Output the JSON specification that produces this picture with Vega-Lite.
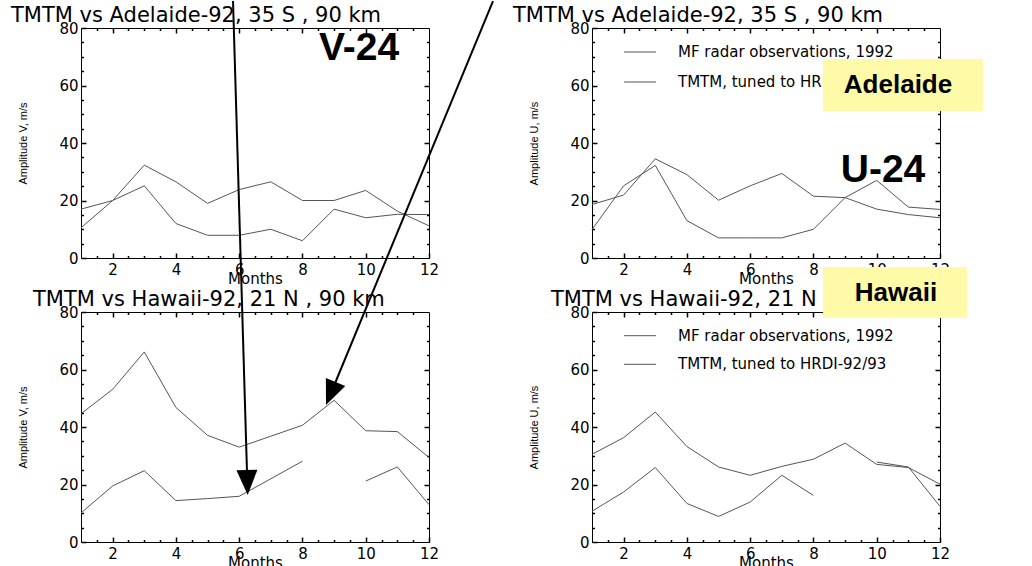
{
  "$schema": "https://vega.github.io/schema/vega-lite/v6.json",
  "padding": {"left": 10, "top": 0, "right": 5, "bottom": 5},
  "background": "white",
  "config": {
    "view": {"stroke": null},
    "axis": {"domainColor": "black", "domainWidth": 1, "tickColor": "black", "tickWidth": 1.5, "ticks": true, "labelColor": "black", "labelFont": "DejaVu Sans", "labelFontSize": 15, "labelFlush": false, "labelOverlap": false, "labelBound": false, "grid": false, "titleColor": "black", "titleFont": "DejaVu Sans", "titleFontWeight": "normal"}
  },
  "datasets": {
    "amp": [
      {"panel":"TL","series":"TMTM","month":1,"value":10.5},{"panel":"TL","series":"TMTM","month":2,"value":20},{"panel":"TL","series":"TMTM","month":3,"value":32.3},{"panel":"TL","series":"TMTM","month":4,"value":26.5},{"panel":"TL","series":"TMTM","month":5,"value":19},{"panel":"TL","series":"TMTM","month":6,"value":23.8},{"panel":"TL","series":"TMTM","month":7,"value":26.5},{"panel":"TL","series":"TMTM","month":8,"value":20},{"panel":"TL","series":"TMTM","month":9,"value":20},{"panel":"TL","series":"TMTM","month":10,"value":23.5},{"panel":"TL","series":"TMTM","month":11,"value":16.3},{"panel":"TL","series":"TMTM","month":12,"value":11.2},
      {"panel":"TL","series":"MF","month":1,"value":17},{"panel":"TL","series":"MF","month":2,"value":20},{"panel":"TL","series":"MF","month":3,"value":25.1},{"panel":"TL","series":"MF","month":4,"value":12},{"panel":"TL","series":"MF","month":5,"value":7.9},{"panel":"TL","series":"MF","month":6,"value":7.9},{"panel":"TL","series":"MF","month":7,"value":10},{"panel":"TL","series":"MF","month":8,"value":6},{"panel":"TL","series":"MF","month":9,"value":17},{"panel":"TL","series":"MF","month":10,"value":14},{"panel":"TL","series":"MF","month":11,"value":15.2},{"panel":"TL","series":"MF","month":12,"value":15.1},
      {"panel":"TR","series":"TMTM","month":1,"value":18.6},{"panel":"TR","series":"TMTM","month":2,"value":21.9},{"panel":"TR","series":"TMTM","month":3,"value":34.5},{"panel":"TR","series":"TMTM","month":4,"value":29},{"panel":"TR","series":"TMTM","month":5,"value":20.1},{"panel":"TR","series":"TMTM","month":6,"value":25.1},{"panel":"TR","series":"TMTM","month":7,"value":29.4},{"panel":"TR","series":"TMTM","month":8,"value":21.5},{"panel":"TR","series":"TMTM","month":9,"value":21},{"panel":"TR","series":"TMTM","month":10,"value":17},{"panel":"TR","series":"TMTM","month":11,"value":15.1},{"panel":"TR","series":"TMTM","month":12,"value":14},
      {"panel":"TR","series":"MF","month":1,"value":9.9},{"panel":"TR","series":"MF","month":2,"value":25.1},{"panel":"TR","series":"MF","month":3,"value":32.2},{"panel":"TR","series":"MF","month":4,"value":13},{"panel":"TR","series":"MF","month":5,"value":7},{"panel":"TR","series":"MF","month":6,"value":7},{"panel":"TR","series":"MF","month":7,"value":7},{"panel":"TR","series":"MF","month":8,"value":10},{"panel":"TR","series":"MF","month":9,"value":21},{"panel":"TR","series":"MF","month":10,"value":27},{"panel":"TR","series":"MF","month":11,"value":17.7},{"panel":"TR","series":"MF","month":12,"value":16.9},
      {"panel":"BL","series":"TMTM","month":1,"value":44.6},{"panel":"BL","series":"TMTM","month":2,"value":53.1},{"panel":"BL","series":"TMTM","month":3,"value":66.1},{"panel":"BL","series":"TMTM","month":4,"value":46.8},{"panel":"BL","series":"TMTM","month":5,"value":37.1},{"panel":"BL","series":"TMTM","month":6,"value":33},{"panel":"BL","series":"TMTM","month":7,"value":36.8},{"panel":"BL","series":"TMTM","month":8,"value":40.6},{"panel":"BL","series":"TMTM","month":9,"value":49.3},{"panel":"BL","series":"TMTM","month":10,"value":38.7},{"panel":"BL","series":"TMTM","month":11,"value":38.4},{"panel":"BL","series":"TMTM","month":12,"value":29.4},
      {"panel":"BL","series":"MF","month":1,"value":10.1},{"panel":"BL","series":"MF","month":2,"value":19.5},{"panel":"BL","series":"MF","month":3,"value":24.8},{"panel":"BL","series":"MF","month":4,"value":14.4},{"panel":"BL","series":"MF","month":5,"value":15.1},{"panel":"BL","series":"MF","month":6,"value":15.9},{"panel":"BL","series":"MF","month":7,"value":22},{"panel":"BL","series":"MF","month":8,"value":28.1},{"panel":"BL","series":"MF","month":9,"value":null},{"panel":"BL","series":"MF","month":10,"value":21.2},{"panel":"BL","series":"MF","month":11,"value":26.1},{"panel":"BL","series":"MF","month":12,"value":13},
      {"panel":"BR","series":"TMTM","month":1,"value":30.5},{"panel":"BR","series":"TMTM","month":2,"value":36.3},{"panel":"BR","series":"TMTM","month":3,"value":45.2},{"panel":"BR","series":"TMTM","month":4,"value":33.2},{"panel":"BR","series":"TMTM","month":5,"value":26.1},{"panel":"BR","series":"TMTM","month":6,"value":23.2},{"panel":"BR","series":"TMTM","month":7,"value":26.3},{"panel":"BR","series":"TMTM","month":8,"value":28.8},{"panel":"BR","series":"TMTM","month":9,"value":34.4},{"panel":"BR","series":"TMTM","month":10,"value":27},{"panel":"BR","series":"TMTM","month":11,"value":25.9},{"panel":"BR","series":"TMTM","month":12,"value":20.1},
      {"panel":"BR","series":"MF","month":1,"value":10.7},{"panel":"BR","series":"MF","month":2,"value":17.4},{"panel":"BR","series":"MF","month":3,"value":25.9},{"panel":"BR","series":"MF","month":4,"value":13.4},{"panel":"BR","series":"MF","month":5,"value":8.9},{"panel":"BR","series":"MF","month":6,"value":13.9},{"panel":"BR","series":"MF","month":7,"value":23.2},{"panel":"BR","series":"MF","month":8,"value":16.2},{"panel":"BR","series":"MF","month":9,"value":null},{"panel":"BR","series":"MF","month":10,"value":27.8},{"panel":"BR","series":"MF","month":11,"value":26.1},{"panel":"BR","series":"MF","month":12,"value":12.4}
    ]
  },
  "columns": 2,
  "spacing": {"row": 54, "column": 163},
  "bounds": "flush",
  "concat": [
    {
      "width": 348, "height": 230,
      "resolve": {"axis": {"x": "independent", "y": "independent"}},
      "layer": [
        {"data": {"name": "amp"}, "transform": [{"filter": "datum.panel === 'TL'"}],
         "mark": {"type": "line", "color": "#555", "strokeWidth": 1, "invalid": "break-paths-show-domains"},
         "encoding": {
           "x": {"field": "month", "type": "quantitative", "scale": {"domain": [1, 12], "nice": false, "zero": false},
                 "axis": {"orient": "bottom", "values": [2,4,6,8,10,12], "format": "d", "tickSize": -5, "labelPadding": 9, "title": "Months", "titleFontSize": 15, "titleY": 25, "titleBaseline": "alphabetic"}},
           "y": {"field": "value", "type": "quantitative", "scale": {"domain": [0, 80], "nice": false, "zero": false},
                 "axis": {"orient": "left", "values": [0,20,40,60,80], "format": "d", "tickSize": -5, "labelPadding": 8, "title": "Amplitude V, m/s", "titleFont": "Liberation Sans", "titleFontSize": 11, "titleX": -55, "titleY": 115, "titleAngle": 270, "titleAlign": "center", "titleBaseline": "alphabetic"}},
           "detail": {"field": "series"}
         }},
        {"data": {"values": [{}]},
         "mark": {"type": "text", "align": "left", "baseline": "alphabetic", "font": "DejaVu Sans", "fontSize": 21, "color": "black"},
         "encoding": {
           "x": {"datum": -1.213, "type": "quantitative", "scale": {"domain": [1, 12], "nice": false, "zero": false},
                 "axis": {"orient": "top", "values": [2,4,6,8,10], "labels": false, "tickSize": -5, "title": null}},
           "y": {"datum": 82.09, "type": "quantitative", "scale": {"domain": [0, 80], "nice": false, "zero": false},
                 "axis": {"orient": "right", "values": [20,40,60], "labels": false, "tickSize": -5, "title": null}},
           "text": {"value": "TMTM vs Adelaide-92, 35 S , 90 km"}
         }},
        {"data": {"values": [{}]}, "mark": {"type": "text", "opacity": 0},
         "encoding": {
           "x": {"datum": 1, "type": "quantitative", "scale": {"domain": [1, 12], "nice": false, "zero": false},
                 "axis": {"orient": "bottom", "values": [1.5,2.5,3,3.5,4.5,5,5.5,6.5,7,7.5,8.5,9,9.5,10.5,11,11.5], "tickSize": -2.5, "labels": false, "domain": false, "title": null}},
           "y": {"datum": 0, "type": "quantitative", "scale": {"domain": [0, 80], "nice": false, "zero": false},
                 "axis": {"orient": "left", "values": [5,10,15,25,30,35,45,50,55,65,70,75], "tickSize": -2.5, "labels": false, "domain": false, "title": null}},
           "text": {"value": ""}}},
        {"data": {"values": [{}]}, "mark": {"type": "text", "opacity": 0},
         "encoding": {
           "x": {"datum": 1, "type": "quantitative", "scale": {"domain": [1, 12], "nice": false, "zero": false},
                 "axis": {"orient": "top", "values": [1.5,2.5,3,3.5,4.5,5,5.5,6.5,7,7.5,8.5,9,9.5,10.5,11,11.5], "tickSize": -2.5, "labels": false, "domain": false, "title": null}},
           "y": {"datum": 0, "type": "quantitative", "scale": {"domain": [0, 80], "nice": false, "zero": false},
                 "axis": {"orient": "right", "values": [5,10,15,25,30,35,45,50,55,65,70,75], "tickSize": -2.5, "labels": false, "domain": false, "title": null}},
           "text": {"value": ""}}},
        {"data": {"values": [{}]},
         "mark": {"type": "text", "align": "center", "baseline": "middle", "font": "Liberation Sans", "fontWeight": "bold", "fontSize": 39, "color": "black"},
         "encoding": {
           "x": {"datum": 9.787, "type": "quantitative", "scale": {"domain": [1, 12], "nice": false, "zero": false}, "axis": null},
           "y": {"datum": 73.04, "type": "quantitative", "scale": {"domain": [0, 80], "nice": false, "zero": false}, "axis": null},
           "text": {"value": "V-24"}
         }}
      ]
    },
    {
      "width": 348, "height": 230,
      "resolve": {"axis": {"x": "independent", "y": "independent"}},
      "layer": [
        {"data": {"name": "amp"}, "transform": [{"filter": "datum.panel === 'TR'"}],
         "mark": {"type": "line", "color": "#555", "strokeWidth": 1, "invalid": "break-paths-show-domains"},
         "encoding": {
           "x": {"field": "month", "type": "quantitative", "scale": {"domain": [1, 12], "nice": false, "zero": false},
                 "axis": {"orient": "bottom", "values": [2,4,6,8,10,12], "format": "d", "tickSize": -5, "labelPadding": 9, "title": "Months", "titleFontSize": 15, "titleY": 25, "titleBaseline": "alphabetic"}},
           "y": {"field": "value", "type": "quantitative", "scale": {"domain": [0, 80], "nice": false, "zero": false},
                 "axis": {"orient": "left", "values": [0,20,40,60,80], "format": "d", "tickSize": -5, "labelPadding": 8, "title": "Amplitude U, m/s", "titleFont": "Liberation Sans", "titleFontSize": 11, "titleX": -55, "titleY": 115, "titleAngle": 270, "titleAlign": "center", "titleBaseline": "alphabetic"}},
           "detail": {"field": "series"}
         }},
        {"data": {"values": [{}]},
         "mark": {"type": "text", "align": "left", "baseline": "alphabetic", "font": "DejaVu Sans", "fontSize": 21, "color": "black"},
         "encoding": {
           "x": {"datum": -1.497, "type": "quantitative", "scale": {"domain": [1, 12], "nice": false, "zero": false},
                 "axis": {"orient": "top", "values": [2,4,6,8,10], "labels": false, "tickSize": -5, "title": null}},
           "y": {"datum": 82.09, "type": "quantitative", "scale": {"domain": [0, 80], "nice": false, "zero": false},
                 "axis": {"orient": "right", "values": [20,40,60], "labels": false, "tickSize": -5, "title": null}},
           "text": {"value": "TMTM vs Adelaide-92, 35 S , 90 km"}
         }},
        {"data": {"values": [{}]}, "mark": {"type": "text", "opacity": 0},
         "encoding": {
           "x": {"datum": 1, "type": "quantitative", "scale": {"domain": [1, 12], "nice": false, "zero": false},
                 "axis": {"orient": "bottom", "values": [1.5,2.5,3,3.5,4.5,5,5.5,6.5,7,7.5,8.5,9,9.5,10.5,11,11.5], "tickSize": -2.5, "labels": false, "domain": false, "title": null}},
           "y": {"datum": 0, "type": "quantitative", "scale": {"domain": [0, 80], "nice": false, "zero": false},
                 "axis": {"orient": "left", "values": [5,10,15,25,30,35,45,50,55,65,70,75], "tickSize": -2.5, "labels": false, "domain": false, "title": null}},
           "text": {"value": ""}}},
        {"data": {"values": [{}]}, "mark": {"type": "text", "opacity": 0},
         "encoding": {
           "x": {"datum": 1, "type": "quantitative", "scale": {"domain": [1, 12], "nice": false, "zero": false},
                 "axis": {"orient": "top", "values": [1.5,2.5,3,3.5,4.5,5,5.5,6.5,7,7.5,8.5,9,9.5,10.5,11,11.5], "tickSize": -2.5, "labels": false, "domain": false, "title": null}},
           "y": {"datum": 0, "type": "quantitative", "scale": {"domain": [0, 80], "nice": false, "zero": false},
                 "axis": {"orient": "right", "values": [5,10,15,25,30,35,45,50,55,65,70,75], "tickSize": -2.5, "labels": false, "domain": false, "title": null}},
           "text": {"value": ""}}},
        {"data": {"values": [{}]},
         "mark": {"type": "rule", "color": "#555", "strokeWidth": 1},
         "encoding": {
           "x": {"datum": 2.012, "type": "quantitative", "scale": {"domain": [1, 12], "nice": false, "zero": false}, "axis": null},
           "x2": {"datum": 3.023},
           "y": {"datum": 71.65, "type": "quantitative", "scale": {"domain": [0, 80], "nice": false, "zero": false}, "axis": null}
         }},
        {"data": {"values": [{}]},
         "mark": {"type": "rule", "color": "#555", "strokeWidth": 1},
         "encoding": {
           "x": {"datum": 2.012, "type": "quantitative", "scale": {"domain": [1, 12], "nice": false, "zero": false}, "axis": null},
           "x2": {"datum": 3.023},
           "y": {"datum": 61.22, "type": "quantitative", "scale": {"domain": [0, 80], "nice": false, "zero": false}, "axis": null}
         }},
        {"data": {"values": [{}]},
         "mark": {"type": "text", "align": "left", "baseline": "middle", "font": "DejaVu Sans", "fontSize": 15, "color": "black"},
         "encoding": {
           "x": {"datum": 3.718, "type": "quantitative", "scale": {"domain": [1, 12], "nice": false, "zero": false}, "axis": null},
           "y": {"datum": 71.65, "type": "quantitative", "scale": {"domain": [0, 80], "nice": false, "zero": false}, "axis": null},
           "text": {"value": "MF radar observations, 1992"}
         }},
        {"data": {"values": [{}]},
         "mark": {"type": "text", "align": "left", "baseline": "middle", "font": "DejaVu Sans", "fontSize": 15, "color": "black"},
         "encoding": {
           "x": {"datum": 3.718, "type": "quantitative", "scale": {"domain": [1, 12], "nice": false, "zero": false}, "axis": null},
           "y": {"datum": 61.22, "type": "quantitative", "scale": {"domain": [0, 80], "nice": false, "zero": false}, "axis": null},
           "text": {"value": "TMTM, tuned to  HRDI-92/93"}
         }},
        {"data": {"values": [{}]},
         "mark": {"type": "text", "align": "center", "baseline": "middle", "font": "Liberation Sans", "fontWeight": "bold", "fontSize": 39, "color": "black"},
         "encoding": {
           "x": {"datum": 10.198, "type": "quantitative", "scale": {"domain": [1, 12], "nice": false, "zero": false}, "axis": null},
           "y": {"datum": 30.61, "type": "quantitative", "scale": {"domain": [0, 80], "nice": false, "zero": false}, "axis": null},
           "text": {"value": "U-24"}
         }},
        {"data": {"values": [{}]},
         "mark": {"type": "rect", "color": "#fffaa8", "opacity": 1},
         "encoding": {
           "x": {"datum": 8.302, "type": "quantitative", "scale": {"domain": [1, 12], "nice": false, "zero": false}, "axis": null},
           "x2": {"datum": 13.359},
           "y": {"datum": 69.22, "type": "quantitative", "scale": {"domain": [0, 80], "nice": false, "zero": false}, "axis": null},
           "y2": {"datum": 51.13}
         }},
        {"data": {"values": [{}]},
         "mark": {"type": "text", "align": "center", "baseline": "middle", "font": "Liberation Sans", "fontWeight": "bold", "fontSize": 26, "color": "black"},
         "encoding": {
           "x": {"datum": 10.673, "type": "quantitative", "scale": {"domain": [1, 12], "nice": false, "zero": false}, "axis": null},
           "y": {"datum": 60.17, "type": "quantitative", "scale": {"domain": [0, 80], "nice": false, "zero": false}, "axis": null},
           "text": {"value": "Adelaide"}
         }}
      ]
    },
    {
      "width": 348, "height": 230,
      "resolve": {"axis": {"x": "independent", "y": "independent"}},
      "layer": [
        {"data": {"name": "amp"}, "transform": [{"filter": "datum.panel === 'BL'"}],
         "mark": {"type": "line", "color": "#555", "strokeWidth": 1, "invalid": "break-paths-show-domains"},
         "encoding": {
           "x": {"field": "month", "type": "quantitative", "scale": {"domain": [1, 12], "nice": false, "zero": false},
                 "axis": {"orient": "bottom", "values": [2,4,6,8,10,12], "format": "d", "tickSize": -5, "labelPadding": 9, "title": "Months", "titleFontSize": 15, "titleY": 25, "titleBaseline": "alphabetic"}},
           "y": {"field": "value", "type": "quantitative", "scale": {"domain": [0, 80], "nice": false, "zero": false},
                 "axis": {"orient": "left", "values": [0,20,40,60,80], "format": "d", "tickSize": -5, "labelPadding": 8, "title": "Amplitude V, m/s", "titleFont": "Liberation Sans", "titleFontSize": 11, "titleX": -55, "titleY": 115, "titleAngle": 270, "titleAlign": "center", "titleBaseline": "alphabetic"}},
           "detail": {"field": "series"}
         }},
        {"data": {"values": [{}]},
         "mark": {"type": "text", "align": "left", "baseline": "alphabetic", "font": "DejaVu Sans", "fontSize": 21, "color": "black"},
         "encoding": {
           "x": {"datum": -0.517, "type": "quantitative", "scale": {"domain": [1, 12], "nice": false, "zero": false},
                 "axis": {"orient": "top", "values": [2,4,6,8,10], "labels": false, "tickSize": -5, "title": null}},
           "y": {"datum": 82.09, "type": "quantitative", "scale": {"domain": [0, 80], "nice": false, "zero": false},
                 "axis": {"orient": "right", "values": [20,40,60], "labels": false, "tickSize": -5, "title": null}},
           "text": {"value": "TMTM vs Hawaii-92, 21 N , 90 km"}
         }},
        {"data": {"values": [{}]}, "mark": {"type": "text", "opacity": 0},
         "encoding": {
           "x": {"datum": 1, "type": "quantitative", "scale": {"domain": [1, 12], "nice": false, "zero": false},
                 "axis": {"orient": "bottom", "values": [1.5,2.5,3,3.5,4.5,5,5.5,6.5,7,7.5,8.5,9,9.5,10.5,11,11.5], "tickSize": -2.5, "labels": false, "domain": false, "title": null}},
           "y": {"datum": 0, "type": "quantitative", "scale": {"domain": [0, 80], "nice": false, "zero": false},
                 "axis": {"orient": "left", "values": [5,10,15,25,30,35,45,50,55,65,70,75], "tickSize": -2.5, "labels": false, "domain": false, "title": null}},
           "text": {"value": ""}}},
        {"data": {"values": [{}]}, "mark": {"type": "text", "opacity": 0},
         "encoding": {
           "x": {"datum": 1, "type": "quantitative", "scale": {"domain": [1, 12], "nice": false, "zero": false},
                 "axis": {"orient": "top", "values": [1.5,2.5,3,3.5,4.5,5,5.5,6.5,7,7.5,8.5,9,9.5,10.5,11,11.5], "tickSize": -2.5, "labels": false, "domain": false, "title": null}},
           "y": {"datum": 0, "type": "quantitative", "scale": {"domain": [0, 80], "nice": false, "zero": false},
                 "axis": {"orient": "right", "values": [5,10,15,25,30,35,45,50,55,65,70,75], "tickSize": -2.5, "labels": false, "domain": false, "title": null}},
           "text": {"value": ""}}},
        {"data": {"values": [{}]},
         "mark": {"type": "rule", "color": "black", "strokeWidth": 2},
         "encoding": {
           "x": {"datum": 5.805, "type": "quantitative", "scale": {"domain": [1, 12], "nice": false, "zero": false}, "axis": null},
           "x2": {"datum": 6.257},
           "y": {"datum": 188.17, "type": "quantitative", "scale": {"domain": [0, 80], "nice": false, "zero": false}, "axis": null},
           "y2": {"datum": 20.7}
         }},
        {"data": {"values": [{}]},
         "mark": {"type": "rule", "color": "black", "strokeWidth": 2},
         "encoding": {
           "x": {"datum": 14.023, "type": "quantitative", "scale": {"domain": [1, 12], "nice": false, "zero": false}, "axis": null},
           "x2": {"datum": 8.896},
           "y": {"datum": 188.17, "type": "quantitative", "scale": {"domain": [0, 80], "nice": false, "zero": false}, "axis": null},
           "y2": {"datum": 51.65}
         }},
        {"data": {"values": [{}]},
         "mark": {"type": "point", "shape": "M-0.84,-1L0.84,-1L0,1Z", "filled": true, "color": "black", "opacity": 1, "size": 625, "angle": -1.7, "strokeWidth": 0},
         "encoding": {
           "x": {"datum": 6.257, "type": "quantitative", "scale": {"domain": [1, 12], "nice": false, "zero": false}, "axis": null},
           "y": {"datum": 20.7, "type": "quantitative", "scale": {"domain": [0, 80], "nice": false, "zero": false}, "axis": null}
         }},
        {"data": {"values": [{}]},
         "mark": {"type": "point", "shape": "M-0.84,-1L0.84,-1L0,1Z", "filled": true, "color": "black", "opacity": 1, "size": 625, "angle": 22.5, "strokeWidth": 0},
         "encoding": {
           "x": {"datum": 8.896, "type": "quantitative", "scale": {"domain": [1, 12], "nice": false, "zero": false}, "axis": null},
           "y": {"datum": 51.65, "type": "quantitative", "scale": {"domain": [0, 80], "nice": false, "zero": false}, "axis": null}
         }}
      ]
    },
    {
      "width": 348, "height": 230,
      "resolve": {"axis": {"x": "independent", "y": "independent"}},
      "layer": [
        {"data": {"name": "amp"}, "transform": [{"filter": "datum.panel === 'BR'"}],
         "mark": {"type": "line", "color": "#555", "strokeWidth": 1, "invalid": "break-paths-show-domains"},
         "encoding": {
           "x": {"field": "month", "type": "quantitative", "scale": {"domain": [1, 12], "nice": false, "zero": false},
                 "axis": {"orient": "bottom", "values": [2,4,6,8,10,12], "format": "d", "tickSize": -5, "labelPadding": 9, "title": "Months", "titleFontSize": 15, "titleY": 25, "titleBaseline": "alphabetic"}},
           "y": {"field": "value", "type": "quantitative", "scale": {"domain": [0, 80], "nice": false, "zero": false},
                 "axis": {"orient": "left", "values": [0,20,40,60,80], "format": "d", "tickSize": -5, "labelPadding": 8, "title": "Amplitude U, m/s", "titleFont": "Liberation Sans", "titleFontSize": 11, "titleX": -55, "titleY": 115, "titleAngle": 270, "titleAlign": "center", "titleBaseline": "alphabetic"}},
           "detail": {"field": "series"}
         }},
        {"data": {"values": [{}]},
         "mark": {"type": "text", "align": "left", "baseline": "alphabetic", "font": "DejaVu Sans", "fontSize": 21, "color": "black"},
         "encoding": {
           "x": {"datum": -0.296, "type": "quantitative", "scale": {"domain": [1, 12], "nice": false, "zero": false},
                 "axis": {"orient": "top", "values": [2,4,6,8,10], "labels": false, "tickSize": -5, "title": null}},
           "y": {"datum": 82.09, "type": "quantitative", "scale": {"domain": [0, 80], "nice": false, "zero": false},
                 "axis": {"orient": "right", "values": [20,40,60], "labels": false, "tickSize": -5, "title": null}},
           "text": {"value": "TMTM vs Hawaii-92, 21 N , 90 km"}
         }},
        {"data": {"values": [{}]}, "mark": {"type": "text", "opacity": 0},
         "encoding": {
           "x": {"datum": 1, "type": "quantitative", "scale": {"domain": [1, 12], "nice": false, "zero": false},
                 "axis": {"orient": "bottom", "values": [1.5,2.5,3,3.5,4.5,5,5.5,6.5,7,7.5,8.5,9,9.5,10.5,11,11.5], "tickSize": -2.5, "labels": false, "domain": false, "title": null}},
           "y": {"datum": 0, "type": "quantitative", "scale": {"domain": [0, 80], "nice": false, "zero": false},
                 "axis": {"orient": "left", "values": [5,10,15,25,30,35,45,50,55,65,70,75], "tickSize": -2.5, "labels": false, "domain": false, "title": null}},
           "text": {"value": ""}}},
        {"data": {"values": [{}]}, "mark": {"type": "text", "opacity": 0},
         "encoding": {
           "x": {"datum": 1, "type": "quantitative", "scale": {"domain": [1, 12], "nice": false, "zero": false},
                 "axis": {"orient": "top", "values": [1.5,2.5,3,3.5,4.5,5,5.5,6.5,7,7.5,8.5,9,9.5,10.5,11,11.5], "tickSize": -2.5, "labels": false, "domain": false, "title": null}},
           "y": {"datum": 0, "type": "quantitative", "scale": {"domain": [0, 80], "nice": false, "zero": false},
                 "axis": {"orient": "right", "values": [5,10,15,25,30,35,45,50,55,65,70,75], "tickSize": -2.5, "labels": false, "domain": false, "title": null}},
           "text": {"value": ""}}},
        {"data": {"values": [{}]},
         "mark": {"type": "rule", "color": "#555", "strokeWidth": 1},
         "encoding": {
           "x": {"datum": 2.012, "type": "quantitative", "scale": {"domain": [1, 12], "nice": false, "zero": false}, "axis": null},
           "x2": {"datum": 3.023},
           "y": {"datum": 71.76, "type": "quantitative", "scale": {"domain": [0, 80], "nice": false, "zero": false}, "axis": null}
         }},
        {"data": {"values": [{}]},
         "mark": {"type": "rule", "color": "#555", "strokeWidth": 1},
         "encoding": {
           "x": {"datum": 2.012, "type": "quantitative", "scale": {"domain": [1, 12], "nice": false, "zero": false}, "axis": null},
           "x2": {"datum": 3.023},
           "y": {"datum": 61.81, "type": "quantitative", "scale": {"domain": [0, 80], "nice": false, "zero": false}, "axis": null}
         }},
        {"data": {"values": [{}]},
         "mark": {"type": "text", "align": "left", "baseline": "middle", "font": "DejaVu Sans", "fontSize": 15, "color": "black"},
         "encoding": {
           "x": {"datum": 3.718, "type": "quantitative", "scale": {"domain": [1, 12], "nice": false, "zero": false}, "axis": null},
           "y": {"datum": 71.76, "type": "quantitative", "scale": {"domain": [0, 80], "nice": false, "zero": false}, "axis": null},
           "text": {"value": "MF radar observations, 1992"}
         }},
        {"data": {"values": [{}]},
         "mark": {"type": "text", "align": "left", "baseline": "middle", "font": "DejaVu Sans", "fontSize": 15, "color": "black"},
         "encoding": {
           "x": {"datum": 3.718, "type": "quantitative", "scale": {"domain": [1, 12], "nice": false, "zero": false}, "axis": null},
           "y": {"datum": 61.81, "type": "quantitative", "scale": {"domain": [0, 80], "nice": false, "zero": false}, "axis": null},
           "text": {"value": "TMTM, tuned to  HRDI-92/93"}
         }},
        {"data": {"values": [{}]},
         "mark": {"type": "rect", "color": "#fffaa8", "opacity": 1},
         "encoding": {
           "x": {"datum": 8.302, "type": "quantitative", "scale": {"domain": [1, 12], "nice": false, "zero": false}, "axis": null},
           "x2": {"datum": 12.854},
           "y": {"datum": 95.65, "type": "quantitative", "scale": {"domain": [0, 80], "nice": false, "zero": false}, "axis": null},
           "y2": {"datum": 77.91}
         }},
        {"data": {"values": [{}]},
         "mark": {"type": "text", "align": "center", "baseline": "middle", "font": "Liberation Sans", "fontWeight": "bold", "fontSize": 26, "color": "black"},
         "encoding": {
           "x": {"datum": 10.609, "type": "quantitative", "scale": {"domain": [1, 12], "nice": false, "zero": false}, "axis": null},
           "y": {"datum": 86.61, "type": "quantitative", "scale": {"domain": [0, 80], "nice": false, "zero": false}, "axis": null},
           "text": {"value": "Hawaii"}
         }}
      ]
    }
  ]
}
